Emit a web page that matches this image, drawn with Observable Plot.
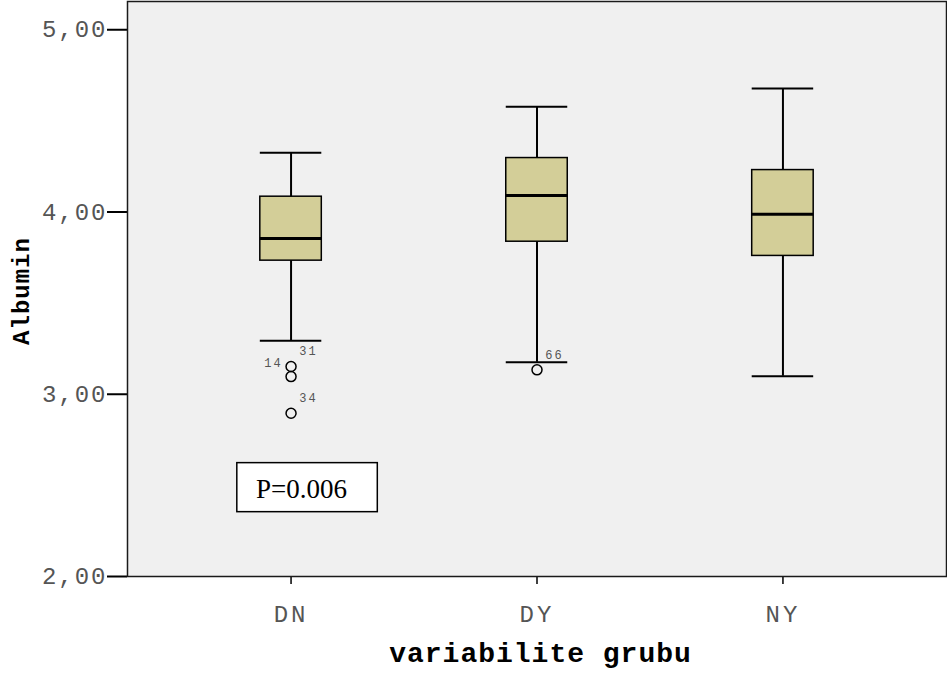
<!DOCTYPE html>
<html><head><meta charset="utf-8">
<script src="https://cdn.jsdelivr.net/npm/d3@7"></script>
<script src="https://cdn.jsdelivr.net/npm/@observablehq/plot@0.6"></script>
<style>
html,body{margin:0;padding:0;background:#fff;}
#chart svg{display:block;}
g[aria-label="y-axis tick label"] text{letter-spacing:2px}
g[aria-label="x-axis tick label"] text{letter-spacing:3px}
</style></head><body><div id="chart"></div>
<script>
// ---- data ----
const groups = ["DN", "DY", "NY"];
const whiskerLow = [3.294, 3.175, 3.099];
const q1 = [3.733, 3.837, 3.759];
const median = [3.855, 4.091, 3.987];
const q3 = [4.084, 4.296, 4.230];
const whiskerHigh = [4.325, 4.578, 4.678];
const outlierGroup = ["DN", "DN", "DN", "DY"];
const outlierValue = [3.152, 3.097, 2.896, 3.134];
const outlierLabel = ["31", "14", "34", "66"];
const yTicks = [2, 3, 4, 5];
const xLabel = "variabilite grubu";
const yLabel = "Albumin";
const pText = "P=0.006";
const pGroup = "DN";
const pLow = 2.353, pHigh = 2.622, pMid = 2.477;

const boxes = groups.map((g, i) => ({g, lo: whiskerLow[i], q1: q1[i], med: median[i], q3: q3[i], hi: whiskerHigh[i]}));
const outliers = outlierGroup.map((g, i) => ({g, v: outlierValue[i], label: outlierLabel[i]}));
const leftLabels = new Set(["14"]);

const mono = "'Liberation Mono', 'Courier New', monospace";
const fmt = d => d.toFixed(2).replace(".", ",");

const chart = Plot.plot({
  width: 947,
  height: 676,
  marginLeft: 127,
  marginRight: 1,
  marginTop: 1,
  marginBottom: 100,
  style: {background: "#ffffff"},
  x: {type: "band", domain: groups, paddingInner: 0.75, paddingOuter: 0.54, round: false, label: null},
  y: {domain: [2, 5.155], label: null},
  marks: [
    Plot.frame({fill: "#f0f0f0", stroke: null}),
    Plot.ruleX(boxes, {x: "g", y1: "lo", y2: "hi", stroke: "black", strokeWidth: 2}),
    Plot.barY(boxes, {x: "g", y1: "q1", y2: "q3", fill: "#d3ce98", stroke: "black", strokeWidth: 1.5}),
    Plot.tickY(boxes, {x: "g", y: "lo", stroke: "black", strokeWidth: 2}),
    Plot.tickY(boxes, {x: "g", y: "hi", stroke: "black", strokeWidth: 2}),
    Plot.tickY(boxes, {x: "g", y: "med", stroke: "black", strokeWidth: 3}),
    Plot.dot(outliers, {x: "g", y: "v", r: 5, stroke: "black", strokeWidth: 1.5, fill: "none"}),
    Plot.text(outliers.filter(d => !leftLabels.has(d.label)), {x: "g", y: "v", text: "label", dx: 17.5, dy: -15, fontFamily: mono, fontSize: 12, fill: "#555"}),
    Plot.text(outliers.filter(d => leftLabels.has(d.label)), {x: "g", y: "v", text: "label", dx: -17.5, dy: -13.5, fontFamily: mono, fontSize: 12, fill: "#555"}),
    Plot.barY([pText], {x: () => pGroup, y1: () => pLow, y2: () => pHigh, insetLeft: -23, insetRight: -56, fill: "white", stroke: "black", strokeWidth: 1.5}),
    Plot.text([pText], {x: () => pGroup, y: () => pMid, text: d => d, dx: 10.5, fontFamily: "'Liberation Serif', 'Times New Roman', serif", fontSize: 27, fill: "black"}),
    Plot.axisY({ticks: yTicks, tickSize: 20, tickFormat: () => "", stroke: "black", strokeWidth: 2}),
    Plot.axisY({ticks: yTicks, tickSize: 0, tickPadding: 20, tickFormat: fmt, fontFamily: mono, fontSize: 24, fill: "#555"}),
    Plot.axisX({tickSize: 8, tickFormat: () => "", stroke: "black", strokeWidth: 1.5}),
    Plot.axisX({tickSize: 0, tickPadding: 28, fontFamily: mono, fontSize: 24, fill: "#555"}),
    Plot.text([xLabel], {frameAnchor: "bottom", dy: 85, dx: 3.5, lineAnchor: "bottom", text: d => d, fontFamily: mono, fontWeight: "bold", fontSize: 28, fill: "black"}),
    Plot.text([yLabel], {frameAnchor: "left", dx: -106, dy: 2, rotate: -90, textAnchor: "middle", text: d => d, fontFamily: mono, fontWeight: "bold", fontSize: 24, fill: "black"}),
    Plot.frame({stroke: "#1a1a1a", strokeWidth: 1.5})
  ]
});
document.getElementById("chart").appendChild(chart);

// letter spacing for the monospaced texts (outlier ids, axis titles)
const textGroups = chart.querySelectorAll('g[aria-label="text"]');
[0, 1].forEach(i => textGroups[i] && textGroups[i].querySelectorAll("text").forEach(t => t.style.letterSpacing = "2px"));
[3, 4].forEach(i => textGroups[i] && textGroups[i].querySelectorAll("text").forEach(t => t.style.letterSpacing = "1px"));
</script>
</body></html>
